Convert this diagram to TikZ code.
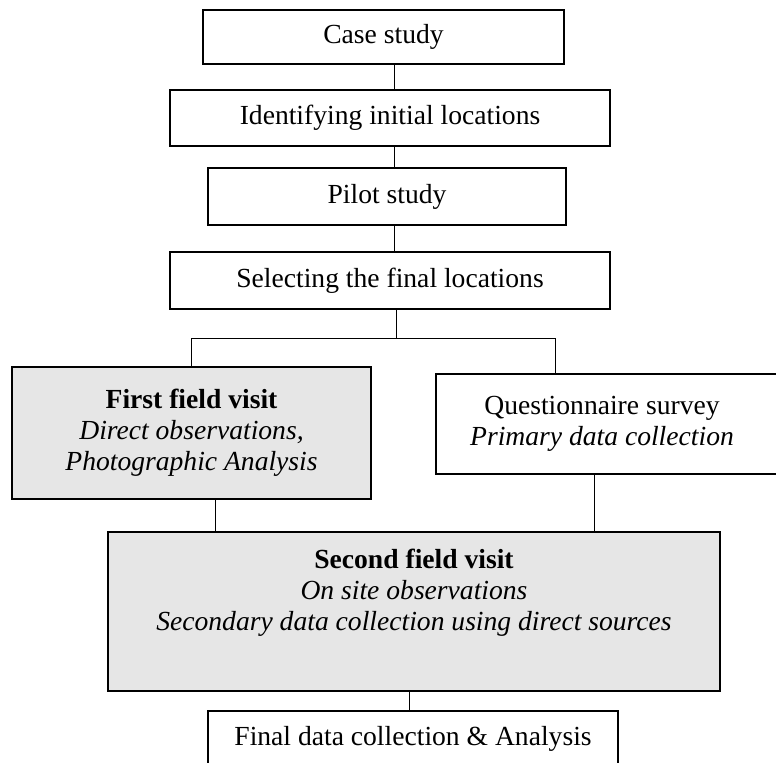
\documentclass[tikz,border=0pt]{standalone}
\usepackage{fontspec}
\setmainfont{Liberation Serif}
\usepackage{tikz}
\usetikzlibrary{calc}
\usetikzlibrary{positioning}
\definecolor{boxgray}{HTML}{E6E6E6}
\tikzset{>=latex}
\tikzstyle{stage} = [rectangle, draw=black, line width=1pt, align=center, inner sep=2pt, font=\fontsize{13.8}{15.5}\selectfont]
\tikzstyle{visit} = [stage, fill=boxgray]
\tikzstyle{link} = [-, draw=black, line width=0.5pt]

\begin{document}
\begin{tikzpicture}[x=0.5pt, y=-0.5pt]
\useasboundingbox (0,0) rectangle (776,763);
%\node [draw=none] at (388,0) {methodology};
\node [stage, minimum width=180.5pt, minimum height=27pt]  (case)   at (383.5, 37)  {Case study};
\node [stage, minimum width=220pt, minimum height=28pt]    (ident)  at (390, 118)   {Identifying initial locations};
\node [stage, minimum width=179pt, minimum height=28.5pt]  (pilot)  at (387, 196.5) {Pilot study};
\node [stage, minimum width=220pt, minimum height=28.5pt]  (select) at (390, 280.5) {Selecting the final locations};
\node [visit, minimum width=179.5pt, minimum height=66pt]  (first)  at (191.5, 433) {\textbf{First field visit}\\ \textit{Direct observations,}\\ \textit{Photographic Analysis}};
\node [stage, minimum width=182pt, minimum height=50pt]    (quest)  at (618, 424)   {\hspace*{-16pt}\begin{tabular}{@{}c@{}}Questionnaire survey\\ \textit{Primary data collection}\end{tabular}};
\node [visit, minimum width=306pt, minimum height=79.5pt]  (second) at (414, 611.5) {\textbf{Second field visit}\\ \textit{On site observations}\\ \textit{Secondary data collection using direct sources}\rule[-22pt]{0pt}{1pt}};
\node [stage, minimum width=205pt, minimum height=28pt]    (final)  at (413, 739)   {Final data collection \& Analysis};

\coordinate (spine) at (394, 0);
\coordinate (fork) at (396, 339);
\coordinate (qdrop) at (555, 339);
\coordinate (fdrop) at (215, 0);
\coordinate (sdrop) at (594, 0);
\coordinate (tdrop) at (409, 0);

\draw [link] (case.south -| spine) to (ident.north -| spine);
\draw [link] (ident.south -| spine) to (pilot.north -| spine);
\draw [link] (pilot.south -| spine) to (select.north -| spine);
\draw [link] (select.south -| fork) to (fork);
\draw [link] (first.north) |- (qdrop) -- (qdrop |- quest.north);
\draw [link] (first.south -| fdrop) to (second.north -| fdrop);
\draw [link] (quest.south -| sdrop) to (second.north -| sdrop);
\draw [link] (second.south -| tdrop) to (final.north -| tdrop);
\end{tikzpicture}
\end{document}
